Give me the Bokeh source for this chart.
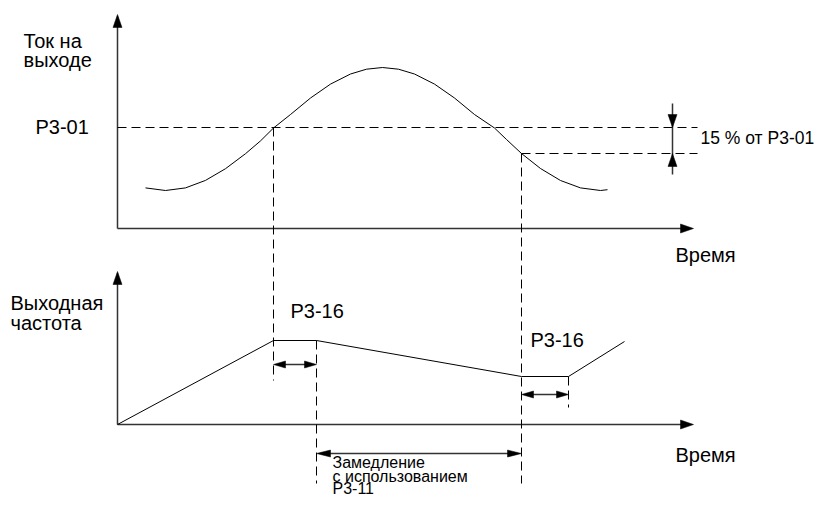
from bokeh.plotting import figure
from bokeh.models import Range1d, ColumnDataSource
from bokeh.core.properties import value
from bokeh.embed import file_html
from bokeh.resources import INLINE

# ---------------- data (diagram coordinates) ----------------
# output current curve (upper panel)
curve_x = [145, 165, 185, 205, 225, 245, 260, 273, 290, 310, 330, 350, 366, 382,
           398, 414, 434, 454, 474, 494, 506, 521, 540, 560, 580, 600, 607]
curve_y = [187.4, 190, 187.4, 179.9, 168.2, 153.2, 140.4, 127.5, 114.0, 97.5, 83.6, 73.5, 68.7, 67,
           68.7, 73.5, 83.6, 97.5, 114.0, 127.5, 139.0, 153.0, 168.0, 180.0, 187.4, 190, 189.2]
# output frequency (lower panel)
freq_x = [117, 273, 316, 521, 568, 624]
freq_y = [424, 340, 340, 376, 376, 341]

level_p301 = 127
level_low = 153
t_on1, t_off1, t_on2, t_off2 = 273, 316, 521, 568

top_axis_y, bot_axis_y, axis_x = 228, 424, 117
axis_x_end = 693

FONT = value("Liberation Sans")
FS = "20px"

p = figure(width=822, height=500, output_backend="svg", toolbar_location=None,
           x_range=Range1d(0, 822), y_range=Range1d(500, 0), min_border=0)
p.axis.visible = False
p.grid.visible = False
p.outline_line_color = None
p.background_fill_color = "white"
p.border_fill_color = "white"


def head(tx, ty, dx, dy, length, width):
    # triangle arrowhead with tip at (tx,ty) pointing in direction (dx,dy)
    bx, by = tx - dx * length, ty - dy * length
    px, py = -dy * width / 2, dx * width / 2
    return [tx, bx + px, bx - px], [ty, by + py, by - py]


heads_x, heads_y = [], []


def add_head(*args):
    hx, hy = head(*args)
    heads_x.append(hx)
    heads_y.append(hy)


AX = "#333333"
# axes
p.line([axis_x, axis_x], [top_axis_y, 16], line_color=AX, line_width=1.5)
p.line([axis_x, axis_x_end - 6], [top_axis_y, top_axis_y], line_color=AX, line_width=1.5)
add_head(axis_x, 14, 0, -1, 13, 9)
add_head(axis_x_end, top_axis_y, 1, 0, 13, 9)
p.line([axis_x, axis_x], [bot_axis_y, 273], line_color=AX, line_width=1.5)
p.line([axis_x, axis_x_end - 6], [bot_axis_y, bot_axis_y], line_color=AX, line_width=1.5)
add_head(axis_x, 271, 0, -1, 13, 9)
add_head(axis_x_end, bot_axis_y, 1, 0, 13, 9)

DASH = "9 5"
# dashed levels
p.line([axis_x, 697], [level_p301, level_p301], line_color="black", line_width=1, line_dash=DASH)
p.line([t_on2, 697], [level_low, level_low], line_color="black", line_width=1, line_dash=DASH)
# dashed verticals
p.line([t_on1, t_on1], [level_p301, 380], line_color="black", line_width=1, line_dash=DASH)
p.line([t_on2, t_on2], [level_low, 483], line_color="black", line_width=1, line_dash=DASH)
p.line([t_off1, t_off1], [340, 483], line_color="black", line_width=1, line_dash=DASH)
p.line([t_off2, t_off2], [376, 407], line_color="black", line_width=1, line_dash=DASH)

# curves
p.line(curve_x, curve_y, line_color="black", line_width=1)
p.line(freq_x, freq_y, line_color="black", line_width=1)

# 15 % arrows
p.line([672, 672], [103, 174], line_color=AX, line_width=1.5)
add_head(672, level_p301, 0, 1, 13, 9)
add_head(672, level_low, 0, -1, 13, 9)

# double arrows
def dbl(x0, x1, y, length, width):
    p.line([x0 + 4, x1 - 4], [y, y], line_color=AX, line_width=1.5)
    add_head(x0, y, -1, 0, length, width)
    add_head(x1, y, 1, 0, length, width)

dbl(t_on1, t_off1, 364, 12, 7)
dbl(t_on2, t_off2, 394, 12, 7)
dbl(t_off1, t_on2, 453, 14, 7)

p.patches(heads_x, heads_y, fill_color="black", line_color="black", line_width=0.5)

# texts
labels = [
    ("Ток на", 23, 40, FS), ("выходе", 23, 59, FS),
    ("P3-01", 35, 126, FS),
    ("15 % от P3-01", 700, 137, "17.5px"),
    ("Время", 675, 254, FS),
    ("Выходная", 10, 302, FS), ("частота", 10, 322, FS),
    ("P3-16", 290, 310, FS),
    ("P3-16", 530, 339, FS),
    ("Время", 675, 454, FS),
    ("Замедление", 332, 462, "16px"), ("с использованием", 332, 476, "16px"), ("P3-11", 332, 488, "16px"),
]
src = ColumnDataSource(dict(t=[l[0] for l in labels], x=[l[1] for l in labels],
                            y=[l[2] for l in labels], fs=[l[3] for l in labels]))
p.text("x", "y", text="t", source=src, text_font=FONT, text_font_size="fs",
       text_color="black", text_align="left", text_baseline="alphabetic")

open("out.html", "w").write(file_html(p, INLINE))
